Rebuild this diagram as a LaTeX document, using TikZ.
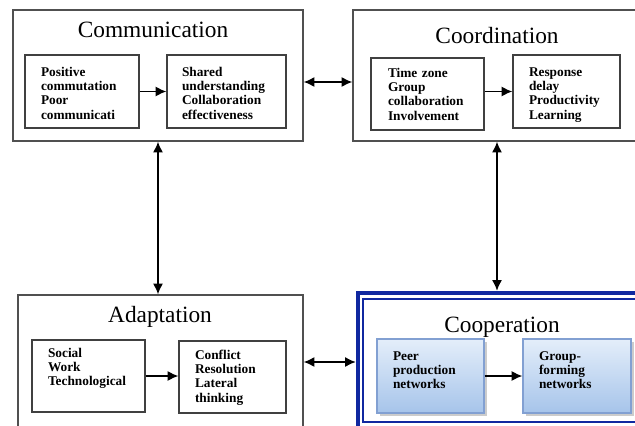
\documentclass[tikz,border=0pt]{standalone}
\usepackage{fontspec}
\setmainfont{Liberation Serif}
\usetikzlibrary{arrows.meta,shadows}

\definecolor{boxgray}{RGB}{80,80,80}
\definecolor{coopblue}{RGB}{16,40,160}
\definecolor{shadetop}{RGB}{228,238,250}
\definecolor{shadebot}{RGB}{166,196,234}
\definecolor{coopedge}{RGB}{130,160,210}

\begin{document}
\begin{tikzpicture}[x=0.75pt,y=-0.75pt,>={Latex[length=8pt,width=7.5pt]},
outerbox/.style={draw=boxgray,line width=1.1pt,minimum height=98.25pt,inner sep=0pt},
title/.style={font=\fontsize{17.5}{20}\selectfont,anchor=base},
innerbox/.style={draw=boxgray!80!black,line width=1pt,align=left,inner ysep=0pt,inner xsep=12pt,
  text width=57pt,text height=15.75pt,text depth=39pt,font=\fontsize{10}{10.8}\selectfont\bfseries},
peerbox/.style={innerbox,draw=coopedge,top color=shadetop,bottom color=shadebot,
  drop shadow={shadow xshift=2pt,shadow yshift=-2pt,opacity=0.4}},
link/.style={line width=1pt}]

\useasboundingbox (0,0) rectangle (635,425);
\clip (0,0) rectangle (635,425);

% the four groups
\node[outerbox,minimum width=217.5pt] (comm) at (158,75.5) {};
\node[outerbox,minimum width=216pt] (coord) at (497,75.5) {};
\node[outerbox,minimum width=213.75pt,minimum height=108.75pt] (adapt) at (160.5,367.5) {};
\node[draw=coopblue,line width=3.4pt,minimum width=226.5pt,minimum height=117.75pt] (coop) at (509,371.5) {};
\draw[coopblue,line width=1pt] (363,299) rectangle (660,422);

\node[title] (commT) at (153,37) {Communication};
\node[title] (coordT) at (497,43) {Coordination};
\node[title] (adaptT) at (160,322) {Adaptation};
\node[title] (coopT) at (502,332) {Cooperation};

% inner boxes
\node[innerbox,text width=61.5pt] (posit) at (82,91.5) {Positive\\commutation\\Poor\\communicati};
\node[innerbox,text width=66.75pt,inner xsep=11.25pt] (shared) at (226.5,91.5) {Shared\\understanding\\Collaboration\\effectiveness};
\node[innerbox,text width=59.25pt,inner xsep=12.75pt,text height=14.25pt,text depth=39.75pt] (tzone) at (427.5,94) {Time zone\\Group\\collaboration\\Involvement};
\node[innerbox,text width=56.25pt] (resp) at (566.5,91.5) {Response\\delay\\Productivity\\Learning};
\node[innerbox,text width=60.75pt,text height=12.75pt,text depth=41.25pt] (social) at (88.5,376) {Social\\Work\\Technological};
\node[innerbox,text width=56.25pt,text height=13.5pt,text depth=40.5pt] (confl) at (232.5,377) {Conflict\\Resolution\\Lateral\\thinking};
\node[peerbox,text width=56.25pt,text height=15.75pt,text depth=39.75pt] (peer) at (430.5,376) {Peer\\production\\networks};
\node[peerbox,text width=57pt,text depth=39.75pt] (gform) at (577,376) {Group-\\forming\\networks};

\draw[link,->] (posit) -- (shared);
\draw[link,->] (tzone.east |- resp.west) -- (resp.west);
\draw[link,->] (social.east) -- (social.east -| confl.west);
\draw[link,->] (peer) -- (gform);

% links between the groups
\coordinate (topy) at (0,82);
\coordinate (boty) at (0,362);
\draw[link,<->] (comm.east |- topy) -- (coord.west |- topy);
\draw[link,<->] (comm.south) -- (comm.south |- adapt.north);
\draw[link,<->] (coord.south) -- (coord.south |- coop.north);
\draw[link,<->] (adapt.east |- boty) -- (coop.west |- boty);

\end{tikzpicture}
\end{document}
